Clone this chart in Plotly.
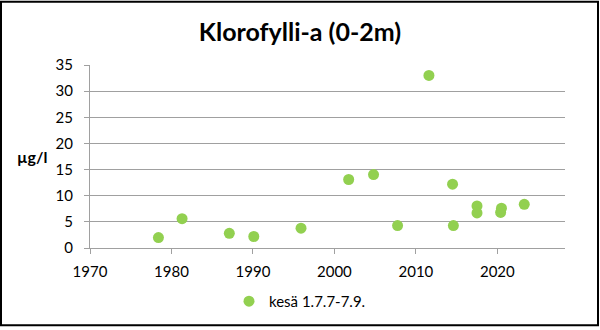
import plotly.graph_objects as go

years = [1978.4, 1981.3, 1987.1, 1990.1, 1995.9, 2001.75, 2004.8, 2007.75, 2011.6,
         2014.5, 2014.6, 2017.5, 2017.5, 2020.4, 2020.5, 2023.3]
values = [2.0, 5.6, 2.8, 2.2, 3.8, 13.1, 14.05, 4.3, 33.0,
          12.2, 4.3, 8.05, 6.7, 6.8, 7.6, 8.35]
series_name = "kesä 1.7.7-7.9."
title_text = "Klorofylli-a (0-2m)"
y_label = "µg/l"

W, H = 600, 330
ml, mr, mt, mb = 90, 35, 65, 80
pw, ph = W - ml - mr, H - mt - mb

def px_x(p):
    return (p - ml) / pw

def px_y(p):
    return (H - mb - p) / ph

fig = go.Figure()
fig.add_trace(go.Scatter(
    x=years, y=values, mode="markers", name=series_name,
    marker=dict(color="#92D050", size=11, line=dict(width=0)),
))

axis_font = dict(family="Lato", size=15, color="#000000")
fig.update_layout(
    width=W, height=H,
    margin=dict(l=ml, r=mr, t=mt, b=mb, pad=0),
    paper_bgcolor="white", plot_bgcolor="white",
    font=axis_font,
    title=dict(text="<b>" + title_text + "</b>", x=0.5, xref="container", xanchor="center",
               y=1 - 32 / H, yref="container", yanchor="middle",
               font=dict(family="Lato", size=25, color="#000000")),
    showlegend=True,
    legend=dict(orientation="h", x=px_x(300), xanchor="center", y=px_y(304), yanchor="middle",
                font=dict(family="Lato", size=15, color="#000000"),
                itemwidth=30, bgcolor="rgba(0,0,0,0)"),
    xaxis=dict(range=[1970, 2028.3], tick0=1970, dtick=10, showgrid=False,
               showline=True, linecolor="#A0A0A0", linewidth=1,
               ticks="outside", ticklen=5, tickcolor="#A0A0A0",
               ticklabelstandoff=5, zeroline=False, tickfont=axis_font),
    yaxis=dict(range=[0, 35], tick0=0, dtick=5, showgrid=True, gridcolor="#A0A0A0", gridwidth=1,
               showline=True, linecolor="#A0A0A0", linewidth=1,
               ticks="outside", ticklen=5, tickcolor="#A0A0A0",
               ticklabelstandoff=8, zeroline=False, tickfont=axis_font),
    annotations=[dict(text="<b>" + y_label + "</b>", xref="paper", yref="paper",
                      x=px_x(32), y=px_y(157), xanchor="center", yanchor="middle",
                      showarrow=False, font=dict(family="Lato", size=16, color="#000000"))],
    shapes=[dict(type="rect", xref="paper", yref="paper",
                 x0=px_x(1), x1=px_x(598), y0=px_y(328), y1=px_y(1),
                 line=dict(color="#000000", width=2), fillcolor="rgba(0,0,0,0)")],
)

fig.write_html("out.html")
